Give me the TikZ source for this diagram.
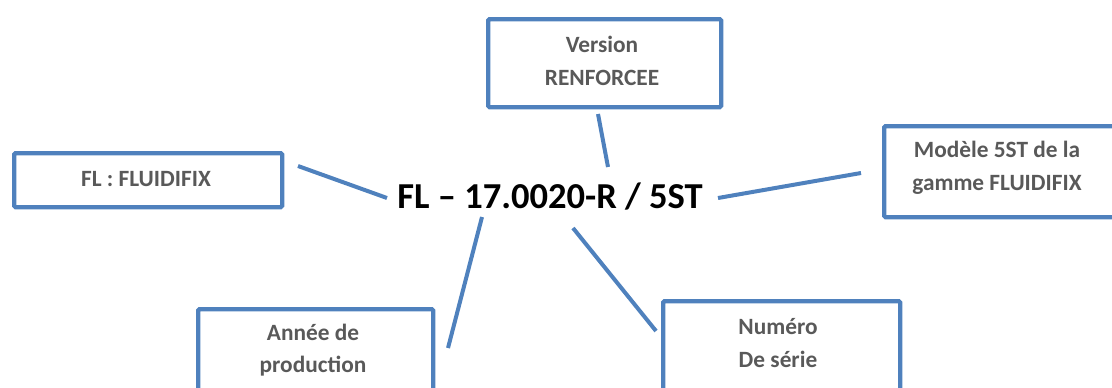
\documentclass[tikz,border=0pt]{standalone}
\usepackage{fontspec}
\setmainfont{Carlito}
\definecolor{boxblue}{HTML}{4F81BD}
\definecolor{boxtext}{HTML}{595959}
\begin{document}
\begin{tikzpicture}[x=0.75pt,y=-0.75pt,
  box/.style={draw=boxblue, line width=3.2pt, rounded corners=1pt, inner sep=0pt, anchor=north west},
  lbl/.style={text=boxtext, font=\fontsize{17.5}{24.5}\selectfont\bfseries, align=center, inner sep=0pt},
  conn/.style={draw=boxblue, line width=3pt}]
\useasboundingbox (0,0) rectangle (1112,387);
\clip (0,0) rectangle (1112,387);
% boxes
\node[box, minimum width=268*0.75pt, minimum height=54*0.75pt] (bfl) at (12,151) {};
\node[box, minimum width=233*0.75pt, minimum height=88*0.75pt] (bver) at (486,17) {};
\node[box, minimum width=238*0.75pt, minimum height=91*0.75pt] (bmod) at (882,124) {};
\node[box, minimum width=235*0.75pt, minimum height=93*0.75pt] (bann) at (196,307) {};
\node[box, minimum width=237*0.75pt, minimum height=101*0.75pt] (bnum) at (661,299) {};
% texts
\node[lbl, anchor=base] (tfl) at (146,186) {FL : FLUIDIFIX};
\node[lbl] (tver) at (602,61) {Version\\RENFORCEE};
\node[lbl] (tmod) at (997,168) {Modèle 5ST de la\\gamme FLUIDIFIX};
\node[lbl] (tann) at (313,350) {Année de\\production};
\node[lbl] (tnum) at (778,343) {Numéro\\De série};
\node[font=\fontsize{27.4}{30}\selectfont\bfseries, anchor=base, inner sep=0pt] (main) at (550,208) {FL – 17.0020-R / 5ST};
% connector end points
\coordinate (c1a) at (298,166); \coordinate (c1b) at (387,198);
\coordinate (c2a) at (598,114); \coordinate (c2b) at (608,167);
\coordinate (c3a) at (718,198); \coordinate (c3b) at (861,173);
\coordinate (c4a) at (482,217); \coordinate (c4b) at (448,348);
\coordinate (c5a) at (573,228); \coordinate (c5b) at (656,331);
\draw[conn] (c1a) -- (c1b);
\draw[conn] (c2a) -- (c2b);
\draw[conn] (c3a) -- (c3b);
\draw[conn] (c4a) -- (c4b);
\draw[conn] (c5a) -- (c5b);
\end{tikzpicture}
\end{document}
